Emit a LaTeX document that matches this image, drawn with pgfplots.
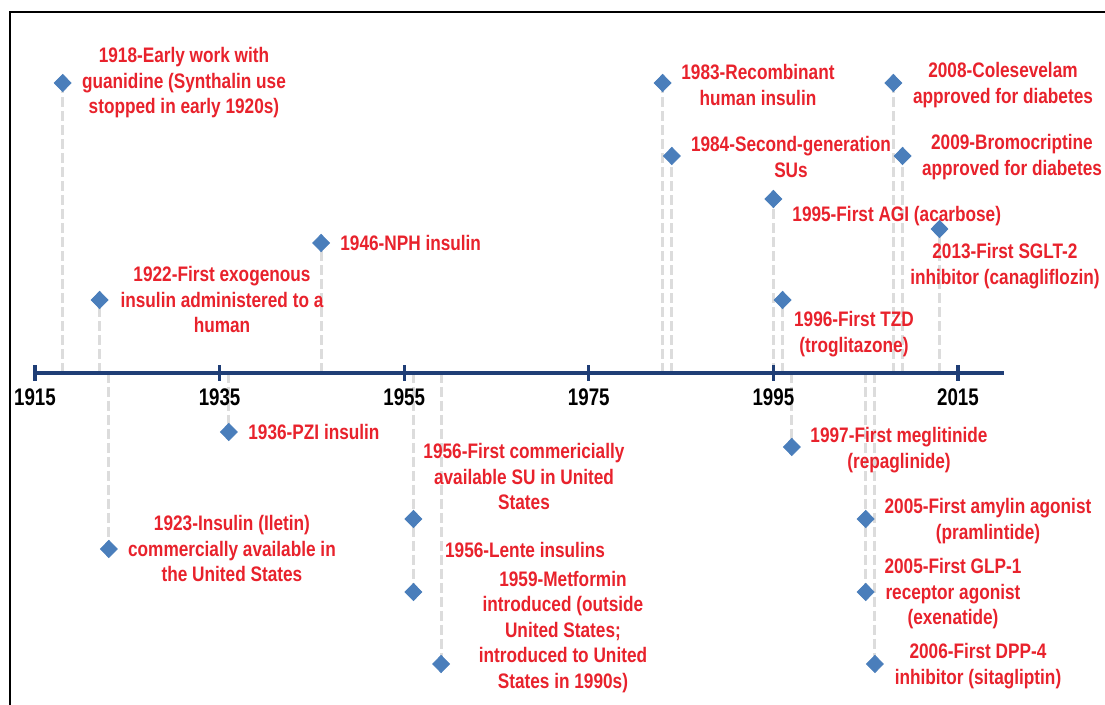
\documentclass[border=0pt]{standalone}
\usepackage{pgfplots}
\pgfplotsset{compat=1.18}
\usepackage{fontspec}
\newfontfamily\lab[FakeStretch=0.82]{Liberation Sans}
\newfontfamily\tckf[FakeStretch=0.78]{Liberation Sans}
\definecolor{labred}{RGB}{232,34,44}
\definecolor{diamblue}{RGB}{74,126,187}
\definecolor{navy}{RGB}{31,62,118}
\definecolor{dashgray}{RGB}{220,220,220}
\pgfplotstableread{
x y
1918 290
1922 73
1923 -176
1936 -59
1946 130
1956 -146
1956 -219
1959 -291
1983 290
1984 217
1995 174
1996 73
1997 -74
2005 -146
2005 -219
2006 -291
2008 290
2009 217
2013 144
}\events
\begin{document}
\begin{tikzpicture}[
  lbl/.style={align=center, text=labred, inner sep=0pt,
    font=\lab\bfseries\fontsize{10.5}{12.75}\selectfont},
  tck/.style={text=black, inner sep=0pt,
    font=\tckf\bfseries\fontsize{12}{14}\selectfont}]
\begin{axis}[
  width=552.5pt, height=352.5pt, scale only axis,
  xmin=1911.208, xmax=2030.93, ymin=-332, ymax=373,
  hide axis, clip=false]
\coordinate (SW) at (rel axis cs:0,0);
\coordinate (NE) at (rel axis cs:1,1);
% frame
\draw[black, line width=1pt] (axis cs:1912.29,-332) -- (axis cs:1912.29,361) -- (axis cs:2030.93,361);
% drop lines
\addplot[ycomb, color=dashgray, line width=1.5pt, dash pattern=on 5pt off 2pt] table[x=x,y=y] {\events};
% timeline
\draw[navy, line width=2.2pt] (axis cs:1915,0) -- (axis cs:2020,0);
\pgfplotsinvokeforeach{1915,1935,1955,1975,1995,2015}{
  \draw[navy, line width=1.6pt] (axis cs:#1,-8) -- (axis cs:#1,8);
  \node[tck] at (axis cs:#1,-24) {#1};
}
% diamonds
\addplot[only marks, mark=diamond*, mark size=4.3pt, color=diamblue, mark options={xscale=1.3}] table[x=x,y=y] {\events};
% labels
\node[lbl] at (axis cs:1931.14,290) {1918-Early work with\\guanidine (Synthalin use\\stopped in early 1920s)};
\node[lbl] at (axis cs:1935.26,73) {1922-First exogenous\\insulin administered to a\\human};
\node[lbl] at (axis cs:1936.34,-176) {1923-Insulin (Iletin)\\commercially available in\\the United States};
\node[lbl, anchor=west] at (axis cs:1938.08,-59) {1936-PZI insulin};
\node[lbl, anchor=west] at (axis cs:1948.04,130) {1946-NPH insulin};
\node[lbl] at (axis cs:1967.98,-104) {1956-First commericially\\available SU in United\\States};
\node[lbl] at (axis cs:1968.09,-177) {1956-Lente insulins};
\node[lbl] at (axis cs:1972.2,-259) {1959-Metformin\\introduced (outside\\United States;\\introduced to United\\States in 1990s)};
\node[lbl] at (axis cs:1993.33,288) {1983-Recombinant\\human insulin};
\node[lbl] at (axis cs:1996.91,216) {1984-Second-generation\\SUs};
\node[lbl, anchor=west] at (axis cs:1997.02,157) {1995-First AGI (acarbose)};
\node[lbl] at (axis cs:2019.88,288) {2008-Colesevelam\\approved for diabetes};
\node[lbl] at (axis cs:2020.85,216) {2009-Bromocriptine\\approved for diabetes};
\node[lbl] at (axis cs:2020.09,107) {2013-First SGLT-2\\inhibitor (canagliflozin)};
\node[lbl] at (axis cs:2003.73,39) {1996-First TZD\\(troglitazone)};
\node[lbl] at (axis cs:2008.61,-77) {1997-First meglitinide\\(repaglinide)};
\node[lbl] at (axis cs:2018.25,-148) {2005-First amylin agonist\\(pramlintide)};
\node[lbl] at (axis cs:2014.46,-221) {2005-First GLP-1\\receptor agonist\\(exenatide)};
\node[lbl] at (axis cs:2017.17,-293) {2006-First DPP-4\\inhibitor (sitagliptin)};
\end{axis}
\pgfresetboundingbox
\useasboundingbox (SW) rectangle (NE);
\end{tikzpicture}
\end{document}
